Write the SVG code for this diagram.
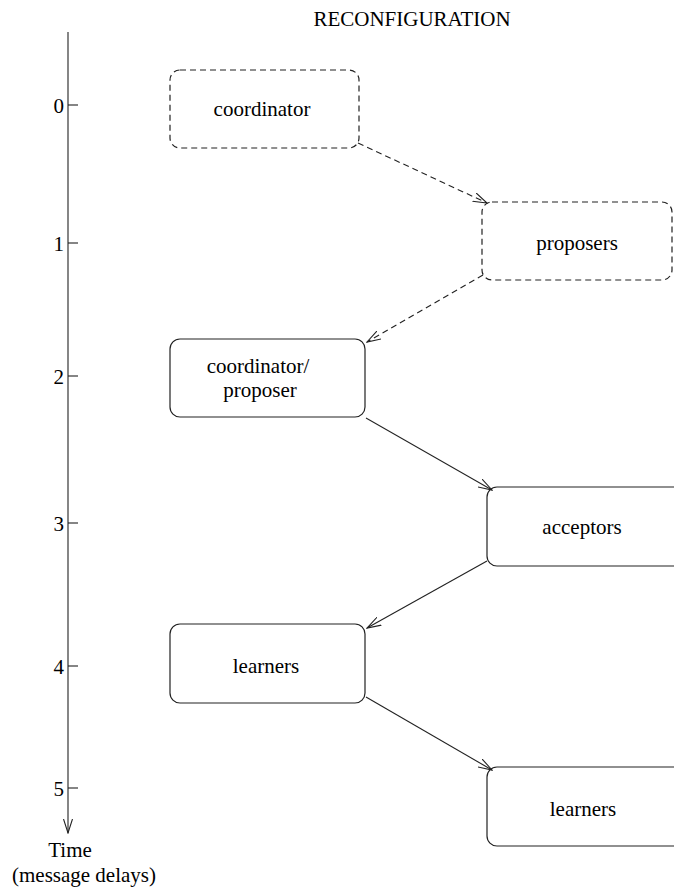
<svg xmlns="http://www.w3.org/2000/svg" width="674" height="890" viewBox="0 0 674 890" font-family="'Liberation Serif', 'Times New Roman', serif">
  <style>
    text { font-family: "Liberation Serif", "Times New Roman", serif; font-size: 21px; fill: #000; }
    .c { text-anchor: middle; }
    .r { text-anchor: end; }
    .box { fill: none; stroke: #222; stroke-width: 1.2; }
    .dash { stroke-dasharray: 6 4; }
    .line { fill: none; stroke: #222; stroke-width: 1.1; }
  </style>
  <defs>
    <marker id="arrow" viewBox="0 0 15 10" refX="14" refY="5" markerWidth="15" markerHeight="10" markerUnits="userSpaceOnUse" orient="auto">
      <path d="M0,0.5 L14,5 L0,9.5" fill="none" stroke="#222" stroke-width="1.1"/>
    </marker>
  </defs>

  <text class="c" x="412" y="26">RECONFIGURATION</text>

  <!-- time axis with ticks every message delay -->
  <g id="axis">
    <line class="line" x1="68" y1="32" x2="68" y2="833" marker-end="url(#arrow)"/>
    <g class="line">
      <line x1="68" y1="105" x2="78" y2="105"/>
      <line x1="68" y1="243" x2="78" y2="243"/>
      <line x1="68" y1="376" x2="78" y2="376"/>
      <line x1="68" y1="523" x2="78" y2="523"/>
      <line x1="68" y1="666" x2="78" y2="666"/>
      <line x1="68" y1="788" x2="78" y2="788"/>
    </g>
    <text class="r" x="64" y="113">0</text>
    <text class="r" x="64" y="251">1</text>
    <text class="r" x="64" y="384">2</text>
    <text class="r" x="64" y="531">3</text>
    <text class="r" x="64" y="674">4</text>
    <text class="r" x="64" y="796">5</text>
    <text class="c" x="70" y="857">Time</text>
    <text class="c" x="84" y="882">(message delays)</text>
  </g>

  <g id="coordinator">
    <rect class="box dash" x="170" y="70" width="189" height="78" rx="10"/>
    <text class="c" x="262" y="116">coordinator</text>
  </g>
  <g id="proposers">
    <rect class="box dash" x="482" y="202" width="190" height="78" rx="10"/>
    <text class="c" x="577" y="250">proposers</text>
  </g>
  <g id="coordinator-proposer">
    <rect class="box" x="170" y="339" width="195" height="78" rx="10"/>
    <text class="c" x="258" y="373">coordinator/</text>
    <text class="c" x="260" y="397">proposer</text>
  </g>
  <g id="acceptors">
    <rect class="box" x="487" y="487" width="200" height="79" rx="10"/>
    <text class="c" x="582" y="534">acceptors</text>
  </g>
  <g id="learners-1">
    <rect class="box" x="170" y="624" width="195" height="79" rx="10"/>
    <text class="c" x="266" y="673">learners</text>
  </g>
  <g id="learners-2">
    <rect class="box" x="487" y="767" width="200" height="79" rx="10"/>
    <text class="c" x="583" y="816">learners</text>
  </g>

  <g id="connectors">
    <line class="line dash" x1="358" y1="143" x2="487" y2="203" marker-end="url(#arrow)"/>
    <line class="line dash" x1="483" y1="275" x2="367" y2="342" marker-end="url(#arrow)"/>
    <line class="line" x1="366" y1="418" x2="492" y2="490" marker-end="url(#arrow)"/>
    <line class="line" x1="487" y1="561" x2="367" y2="628" marker-end="url(#arrow)"/>
    <line class="line" x1="366" y1="697" x2="492" y2="770" marker-end="url(#arrow)"/>
  </g>
</svg>
